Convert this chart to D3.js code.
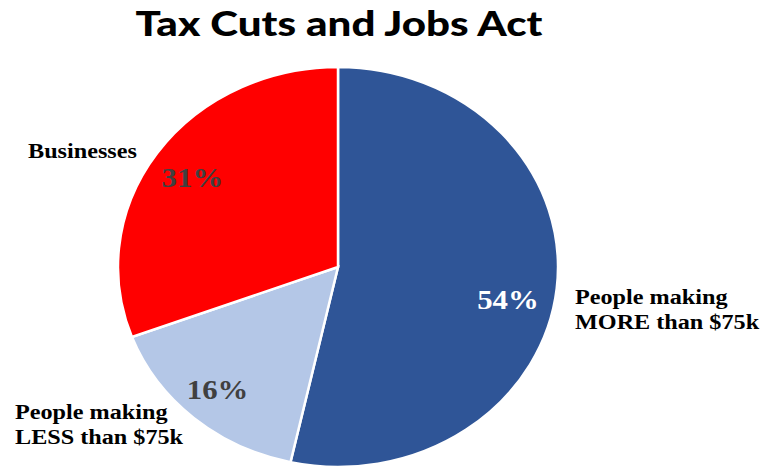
<!DOCTYPE html>
<html>
<head>
<meta charset="utf-8">
<script src="https://cdn.jsdelivr.net/npm/d3@7"></script>
<style>
  html, body { margin: 0; padding: 0; background: #fff; }
  svg { display: block; }
</style>
</head>
<body>
<svg id="chart" width="767" height="470"></svg>
<script>
const title = "Tax Cuts and Jobs Act";
const categories = ["People making MORE than $75k", "People making LESS than $75k", "Businesses"];
const labelLines = [["People making", "MORE than $75k"], ["People making", "LESS than $75k"], ["Businesses"]];
const values = [54, 16, 31];
const pctLabels = ["54%", "16%", "31%"];
const colors = ["#2F5597", "#B4C7E7", "#FF0000"];
const pctColors = ["#FFFFFF", "#404040", "#404040"];

const W = 767, H = 470;
const cx = 338, cy = 267, r = 200, sx = 1.1;

const svg = d3.select("#chart");

// title, stretched horizontally to the reference width
const tg = svg.append("g");
const tt = tg.append("text")
  .attr("text-anchor", "middle")
  .attr("font-family", "Lato, 'Open Sans', sans-serif")
  .attr("font-weight", 900)
  .attr("font-size", 34)
  .attr("fill", "#000")
  .text(title);
const tw = tt.node().getComputedTextLength();
const tsx = 407 / tw;
tg.attr("transform", `translate(339,35.5) scale(${tsx},1)`);

const pie = d3.pie().sort(null).value(d => d)(values);
const arc = d3.arc().innerRadius(0).outerRadius(r);
const labelArc = d3.arc().innerRadius(r * 0.8).outerRadius(r * 0.8);

const g = svg.append("g").attr("transform", `translate(${cx},${cy}) scale(${sx},1)`);
g.selectAll("path").data(pie).join("path")
  .attr("d", arc)
  .attr("fill", (d, i) => colors[i])
  .attr("stroke", "#fff")
  .attr("stroke-width", 2.5)
  .attr("vector-effect", "non-scaling-stroke");

const pctOffsets = [[-5, 25], [-5, 11], [-1, 11]];
svg.selectAll("g.pct").data(pie).join("g")
  .attr("class", "pct")
  .attr("transform", (d, i) => {
    const c = labelArc.centroid(d);
    return `translate(${cx + c[0] * sx + pctOffsets[i][0]},${cy + c[1] + pctOffsets[i][1]}) scale(${sx},1)`;
  })
  .append("text")
  .attr("text-anchor", "middle")
  .attr("font-family", "'Liberation Serif', 'Times New Roman', serif")
  .attr("font-weight", 700)
  .attr("font-size", 28)
  .attr("fill", (d, i) => pctColors[i])
  .text((d, i) => pctLabels[i]);

const catPos = [[575, 304], [15, 419], [28, 158]];
labelLines.forEach((lines, i) => {
  const t = svg.append("g")
    .attr("transform", `translate(${catPos[i][0]},${catPos[i][1]}) scale(${sx},1)`)
    .append("text")
    .attr("font-family", "'Liberation Serif', 'Times New Roman', serif")
    .attr("font-weight", 700)
    .attr("font-size", 22)
    .attr("fill", "#000");
  lines.forEach((ln, j) => {
    t.append("tspan").attr("x", 0).attr("y", j * 25).text(ln);
  });
});
</script>
</body>
</html>
